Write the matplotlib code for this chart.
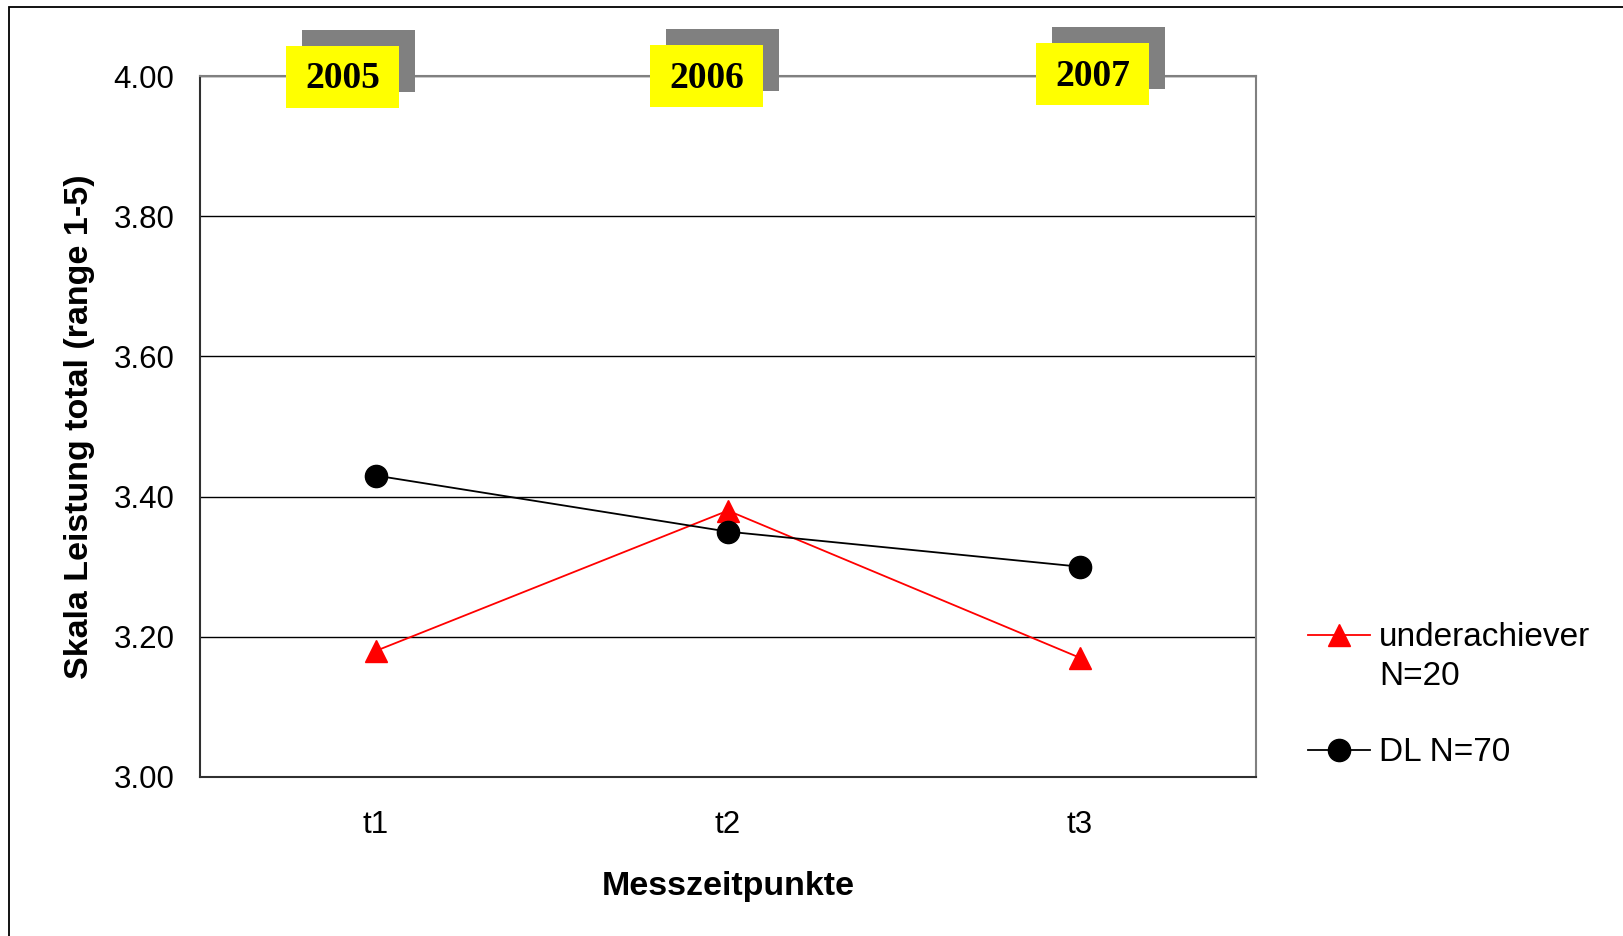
import matplotlib.pyplot as plt
from matplotlib.patches import Rectangle
from matplotlib.lines import Line2D

# %% data
zeitpunkte = ['t1', 't2', 't3']
jahre = ['2005', '2006', '2007']
underachiever = [3.18, 3.38, 3.17]
dl = [3.43, 3.35, 3.30]
yticks = [3.00, 3.20, 3.40, 3.60, 3.80, 4.00]
legend_labels = ['underachiever\nN=20', 'DL N=70']

# %% figure
W, H = 1624, 936
fig = plt.figure(figsize=(W / 100, H / 100), dpi=100)
sans = 'Liberation Sans'
serif = 'Liberation Serif'

# outer frame (only top/left visible, rest runs off the page)
fig.patches.append(Rectangle((9 / W, -0.1), 1.2, 1 - 7 / H + 0.1,
                             transform=fig.transFigure, fill=False,
                             edgecolor='black', linewidth=1.3))

ax = fig.add_axes([200 / W, 1 - 777 / H, 1056 / W, 701 / H])
x = range(len(zeitpunkte))
ax.plot(x, underachiever, color='red', lw=1.3, marker='^', ms=16, zorder=3)
ax.plot(x, dl, color='black', lw=1.3, marker='o', ms=16, zorder=3)

ax.set_xlim(-0.5, 2.5)
ax.set_ylim(3.0, 4.0)
ax.set_xticks(list(x))
ax.set_xticklabels(zeitpunkte, fontsize=22.5, family=sans)
ax.set_yticks(yticks)
ax.set_yticklabels(['%.2f' % v for v in yticks], fontsize=22.5, family=sans)
ax.tick_params(length=0)
ax.tick_params(axis='x', pad=24)
ax.tick_params(axis='y', pad=18.5)
ax.yaxis.grid(True, color='black', lw=1.0)
ax.set_axisbelow(True)
for s in ['top', 'right']:
    ax.spines[s].set_color('#808080')
for s in ['left', 'bottom']:
    ax.spines[s].set_color('#303030')
for s in ax.spines.values():
    s.set_linewidth(1.5)

ax.set_xlabel('Messzeitpunkte', fontsize=24.5, family=sans,
              fontweight='bold', labelpad=22)
ax.set_ylabel('Skala Leistung total (range 1-5)', fontsize=24.5,
              family=sans, fontweight='bold', labelpad=13)

# year tags with grey shadow above each measurement point
box_x = [286, 650, 1036]
box_y = [46, 45, 43]
bw, bh = 113, 62
for jahr, bx, by in zip(jahre, box_x, box_y):
    fig.patches.append(Rectangle(((bx + 16) / W, 1 - (by - 16 + bh) / H),
                                 bw / W, bh / H, transform=fig.transFigure,
                                 facecolor='#808080', edgecolor='none',
                                 zorder=5))
    fig.patches.append(Rectangle((bx / W, 1 - (by + bh) / H), bw / W, bh / H,
                                 transform=fig.transFigure, facecolor='yellow',
                                 edgecolor='none', zorder=6))
    fig.text((bx + bw / 2) / W, 1 - (by + bh / 2 + 2) / H, jahr,
             family=serif, fontweight='bold', fontsize=27,
             ha='center', va='center', zorder=7)

# legend, handle aligned with the first text line
leg_y = [635, 750]
line_gap = 39.4
leg_style = [dict(color='red', marker='^'), dict(color='black', marker='o')]
for lab, ly, st in zip(legend_labels, leg_y, leg_style):
    fy = 1 - ly / H
    fig.lines.append(Line2D([1308 / W, 1370 / W], [fy, fy], lw=1.3,
                            transform=fig.transFigure, color=st['color']))
    fig.lines.append(Line2D([1339 / W], [fy], marker=st['marker'], ms=16,
                            color=st['color'], transform=fig.transFigure))
    # baseline of the last line of the label
    base = ly + 11 + (lab.count('\n')) * line_gap
    fig.text(1379 / W, 1 - base / H, lab, family=sans, fontsize=24,
             ha='left', va='baseline', linespacing=1.37,
             transform=fig.transFigure)

fig.savefig('out.png', dpi=100)
